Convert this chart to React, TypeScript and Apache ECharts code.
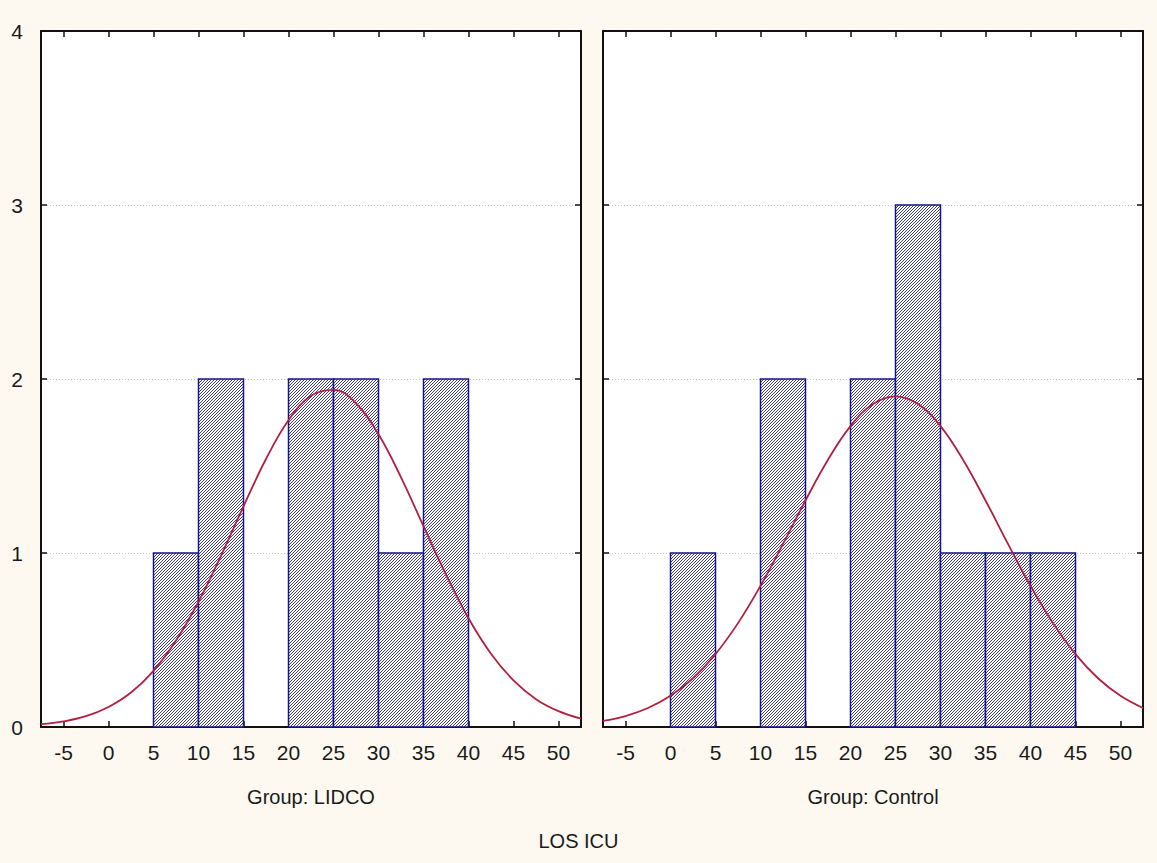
import React, { useEffect, useRef } from "react";
import * as echarts from "echarts";

// Histogram bins (start of each 5-unit bin) and counts
const lidcoBinStarts = [5, 10, 15, 20, 25, 30, 35];
const lidcoCounts = [1, 2, 0, 2, 2, 1, 2];
const controlBinStarts = [0, 5, 10, 15, 20, 25, 30, 35, 40];
const controlCounts = [1, 0, 2, 0, 2, 3, 1, 1, 1];
const binWidth = 5;

// X tick labels
const xTicks = [-5, 0, 5, 10, 15, 20, 25, 30, 35, 40, 45, 50];

// Fitted normal curves
const curveX = [-7.5, -5, -2.5, 0, 2.5, 5, 7.5, 10, 12.5, 15, 17.5, 20, 22.5, 25, 27.5, 30, 32.5, 35, 37.5, 40, 42.5, 45, 47.5, 50, 52.5];
const lidcoCurve = [0.016, 0.032, 0.062, 0.115, 0.198, 0.323, 0.497, 0.72, 0.984, 1.268, 1.54, 1.763, 1.904, 1.938, 1.86, 1.682, 1.435, 1.154, 0.875, 0.625, 0.421, 0.268, 0.16, 0.091, 0.048];
const controlCurve = [0.035, 0.063, 0.109, 0.179, 0.28, 0.419, 0.597, 0.811, 1.052, 1.302, 1.536, 1.729, 1.856, 1.9, 1.856, 1.729, 1.536, 1.302, 1.052, 0.811, 0.597, 0.419, 0.28, 0.179, 0.109];

const groupNames = ["Group: LIDCO", "Group: Control"];
const xTitle = "LOS ICU";

const FONT = "'Liberation Sans', Arial, sans-serif";

function makePattern() {
  const c = document.createElement("canvas");
  c.width = 3;
  c.height = 3;
  const ctx = c.getContext("2d")!;
  ctx.fillStyle = "#ffffff";
  ctx.fillRect(0, 0, 3, 3);
  ctx.fillStyle = "#3d3d78";
  ctx.fillRect(0, 2, 1, 1);
  ctx.fillRect(1, 1, 1, 1);
  ctx.fillRect(2, 0, 1, 1);
  return c;
}

export default function App() {
  const ref = useRef<HTMLDivElement>(null);
  useEffect(() => {
    const chart = echarts.init(ref.current!, undefined, { renderer: "svg" });
    const pattern = { image: makePattern(), repeat: "repeat" };

    const bins = [
      lidcoBinStarts.map((s, i) => [s, s + binWidth, lidcoCounts[i]]).filter((d) => d[2] > 0),
      controlBinStarts.map((s, i) => [s, s + binWidth, controlCounts[i]]).filter((d) => d[2] > 0),
    ];
    const curves = [lidcoCurve, controlCurve];
    const gridLefts = [41, 603];

    const axisLine = { show: true, onZero: false, lineStyle: { color: "#111", width: 2 } };
    const yTick = { show: true, inside: true, length: 6, lineStyle: { color: "#111", width: 1.5 } };
    const xTick = { show: true, inside: true, length: 6, customValues: xTicks, lineStyle: { color: "#111", width: 1.5 } };

    const grid: any[] = [];
    const xAxis: any[] = [];
    const yAxis: any[] = [];
    const series: any[] = [];

    for (let g = 0; g < 2; g++) {
      grid.push({ left: gridLefts[g], top: 31, width: 540, height: 696, show: true, backgroundColor: "#ffffff", borderWidth: 0 });
      xAxis.push({
        type: "value", gridIndex: g, position: "bottom", min: -7.5, max: 52.5,
        axisLine, axisTick: xTick, splitLine: { show: false },
        axisLabel: { show: true, customValues: xTicks, color: "#1a1a1a", fontSize: 21, fontFamily: FONT, margin: 15 },
        name: groupNames[g], nameLocation: "middle", nameGap: 60,
        nameTextStyle: { color: "#1a1a1a", fontSize: 20, fontFamily: FONT },
      });
      xAxis.push({
        type: "value", gridIndex: g, position: "top", min: -7.5, max: 52.5,
        axisLine, axisTick: xTick, splitLine: { show: false }, axisLabel: { show: false },
      });
      yAxis.push({
        type: "value", gridIndex: g, position: "left", min: 0, max: 4, interval: 1,
        axisLine, axisTick: yTick,
        splitLine: { show: true, lineStyle: { color: "#c4c4c4", type: [1, 2], width: 1 } },
        axisLabel: { show: g === 0, color: "#1a1a1a", fontSize: 21, fontFamily: FONT, margin: 18 },
      });
      yAxis.push({
        type: "value", gridIndex: g, position: "right", min: 0, max: 4, interval: 1,
        axisLine, axisTick: yTick, splitLine: { show: false }, axisLabel: { show: false },
      });

      series.push({
        type: "custom", xAxisIndex: g * 2, yAxisIndex: g * 2, data: bins[g], z: 2,
        encode: { x: [0, 1], y: 2 },
        renderItem: (params: any, api: any) => {
          const p1 = api.coord([api.value(0), api.value(2)]);
          const p2 = api.coord([api.value(1), 0]);
          return {
            type: "rect",
            shape: { x: p1[0], y: p1[1], width: p2[0] - p1[0], height: p2[1] - p1[1] },
            style: { fill: pattern, stroke: "#14148a", lineWidth: 1.5 },
          };
        },
      });
      series.push({
        type: "line", xAxisIndex: g * 2, yAxisIndex: g * 2, z: 3,
        data: curveX.map((x, i) => [x, curves[g][i]]),
        smooth: 0.4, showSymbol: false, symbol: "none",
        lineStyle: { color: "#b3203f", width: 1.8 },
      });
    }

    chart.setOption({
      animation: false,
      backgroundColor: "#fdf9f0",
      grid, xAxis, yAxis, series,
      graphic: [
        { type: "text", left: "center", top: 831, style: { text: xTitle, fill: "#1a1a1a", fontSize: 20, fontFamily: FONT } },
      ],
    });
    return () => chart.dispose();
  }, []);
  return <div ref={ref} style={{ position: "absolute", left: 0, top: 0, width: 1157, height: 863 }} />;
}
